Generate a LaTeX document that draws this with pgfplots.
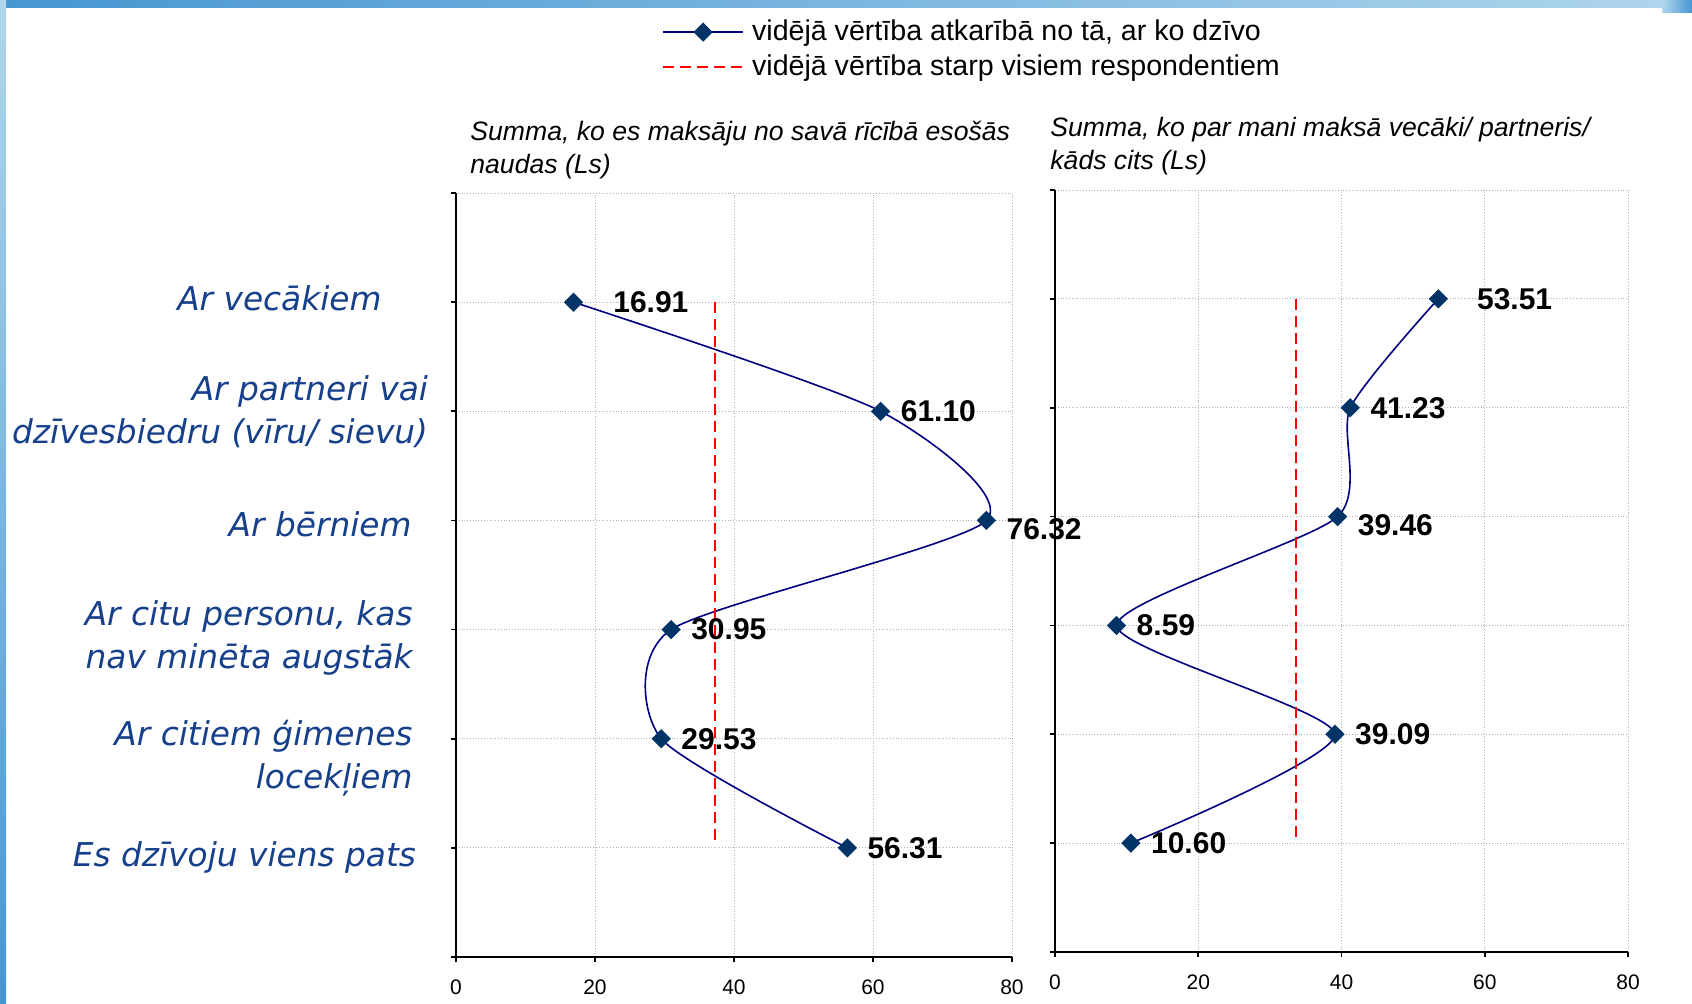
\documentclass[border=0pt]{standalone}
\usepackage{fontspec}
\setmainfont{Liberation Sans}
\newfontfamily\catfont{DejaVu Sans}
\usepackage{pgfplots}
\usepackage{pgfplotstable}
\pgfplotsset{compat=1.18}

\definecolor{navyline}{RGB}{0,0,128}
\definecolor{markblue}{RGB}{0,51,102}
\definecolor{catblue}{RGB}{23,64,139}
\definecolor{bandlight}{RGB}{176,214,236}
\definecolor{banddark}{RGB}{70,150,210}

% x = value, y = category position (6 = top), dx/dy = label offset in pt
\pgfplotstableread{
x y dx dy
16.91 6 19.5 0
61.10 5 9.7 0
76.32 4 9.7 -4.3
30.95 3 9.7 0
29.53 2 9.7 0
56.31 1 9.7 0
}\lefttab
\pgfplotstableread{
x y dx dy
53.51 6 19 0
41.23 5 9.7 0
39.46 4 9.7 -4.3
8.59 3 9.7 0
39.09 2 9.7 0
10.60 1 9.7 0
}\righttab
\pgfplotstableread{
x y
37.2 6
37.2 1.05
}\leftmean
\pgfplotstableread{
x y
33.6 6
33.6 1.05
}\rightmean

\pgfplotsset{
  panel/.style={
    scale only axis, clip=false,
    xmin=0, xmax=80, ymin=0, ymax=7,
    xtick={0,20,...,80}, ytick={0,...,7}, yticklabels={,,,,,,,},
    grid=major, major grid style={gray!60, densely dotted, line width=0.4pt},
    axis x line*=bottom, axis y line*=left,
    axis line style={black, line width=1pt, -},
    x axis line style={line width=1.3pt},
    tick align=outside, major tick length=2.5pt,
    tick style={black, line width=0.8pt},
    xticklabel style={font=\fontsize{10.5}{12}\selectfont, yshift=-5.5pt},
    /pgf/number format/assume math mode=true,
  },
  curve/.style={navyline, line width=0.8pt, smooth, tension=0.4,
    mark=square*, mark size=3pt,
    mark options={rotate=45, fill=markblue, draw=markblue, solid},
    point meta=x,
    visualization depends on={\thisrow{dx} \as \dx},
    visualization depends on={\thisrow{dy} \as \dy},
    nodes near coords={\pgfmathprintnumber[fixed,fixed zerofill,precision=2]{\pgfplotspointmeta}},
    nodes near coords style={anchor=west, inner sep=0pt, xshift=\dx pt, yshift=\dy pt,
      font=\fontsize{15}{18}\selectfont\bfseries, text=black},
  },
  meanline/.style={red, line width=1pt, dash pattern=on 5.5pt off 3pt, mark=none},
}
\tikzset{catlab/.style={anchor=east, align=right, text=catblue,
  font=\catfont\itshape\fontsize{16.4}{21.5}\selectfont, inner sep=0pt}}

\begin{document}
\begin{tikzpicture}[x=1pt, y=1pt]
\path[use as bounding box] (0,0) rectangle (846,501.5);
\fill[white] (0,0) rectangle (846,501.5);
\shade[left color=banddark, right color=bandlight] (0,497.5) rectangle (846,501.5);
\shade[left color=bandlight, right color=banddark] (831,495) rectangle (846,501.5);
\shade[top color=bandlight, bottom color=banddark] (0,0) rectangle (3,501.5);

\begin{axis}[panel, at={(228pt,23pt)}, anchor=south west, width=278pt, height=382pt,
  legend style={at={(axis description cs:0.37,1.232)}, anchor=north west,
    draw=none, fill=none, inner sep=0pt, row sep=1.4pt,
    font=\fontsize{14.3}{17}\selectfont,
    /tikz/every odd column/.append style={column sep=2pt}},
  legend cell align=left,
  legend image code/.code={\draw[mark repeat=2, mark phase=2]
    plot coordinates {(0pt,0pt) (20pt,0pt) (40pt,0pt)};},
]
\addplot[curve] table[x=x, y=y] {\lefttab};
\addlegendentry{vidējā vērtība atkarībā no tā, ar ko dzīvo}
\addplot[meanline] table[x=x, y=y] {\leftmean};
\addlegendentry{vidējā vērtība starp visiem respondentiem}

\node[catlab, xshift=-37pt, yshift=2pt] at (axis cs:0,6) {Ar vecākiem};
\node[catlab, xshift=-13.8pt] at (axis cs:0,5) {Ar partneri vai\\dzīvesbiedru (vīru/ sievu)};
\node[catlab, xshift=-22pt, yshift=-2pt] at (axis cs:0,4) {Ar bērniem};
\node[catlab, xshift=-21.5pt, yshift=-4.3pt] at (axis cs:0,3) {Ar citu personu, kas\\nav minēta augstāk};
\node[catlab, xshift=-21.5pt, yshift=-9.7pt] at (axis cs:0,2) {Ar citiem ģimenes\\locekļiem};
\node[catlab, xshift=-19.8pt, yshift=-4.9pt] at (axis cs:0,1) {Es dzīvoju viens pats};
\end{axis}

\begin{axis}[panel, at={(527.5pt,25.5pt)}, anchor=south west, width=286.5pt, height=381pt]
\addplot[curve] table[x=x, y=y] {\righttab};
\addplot[meanline] table[x=x, y=y] {\rightmean};
\end{axis}

\node[anchor=west, align=left, inner sep=0pt, font=\itshape\fontsize{13.3}{16.5}\selectfont]
  at (235,426.25) {Summa, ko es maksāju no savā rīcībā esošās\\naudas (Ls)};
\node[anchor=west, align=left, inner sep=0pt, font=\itshape\fontsize{13.3}{16.5}\selectfont]
  at (525,428.5) {Summa, ko par mani maksā vecāki/ partneris/\\kāds cits (Ls)};
\end{tikzpicture}
\end{document}
